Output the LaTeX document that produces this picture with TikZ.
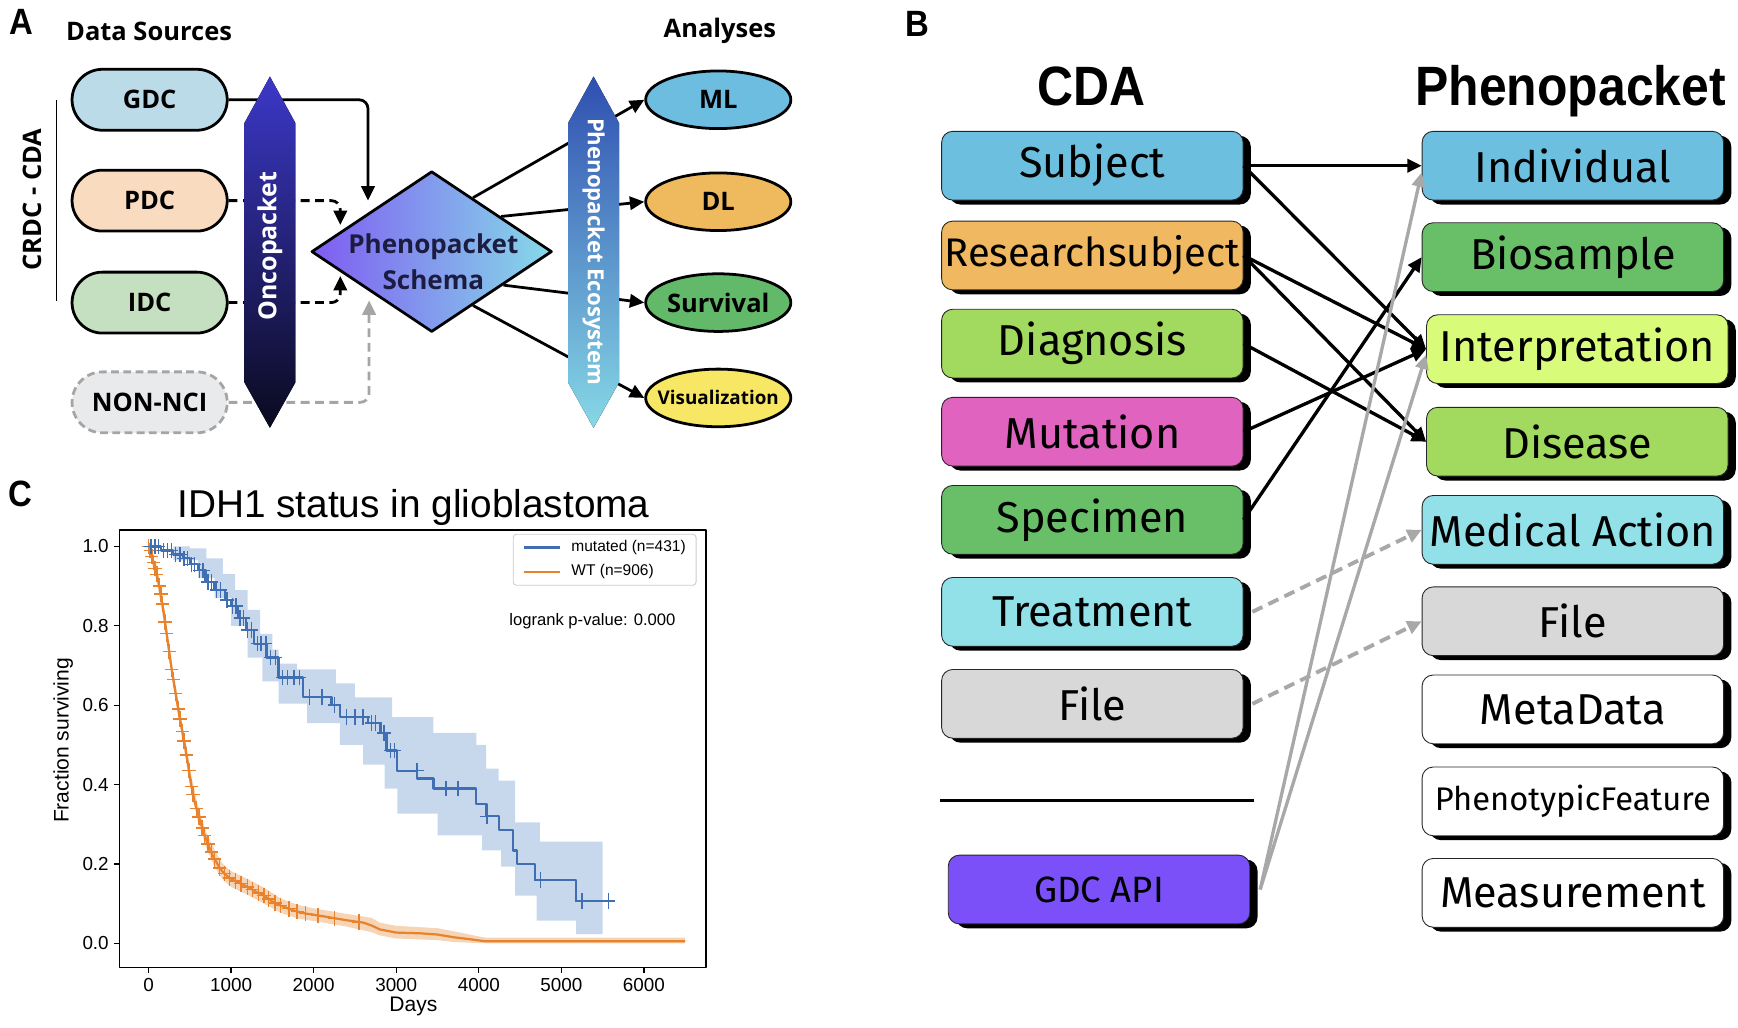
\documentclass[tikz,border=0pt]{standalone}
\usepackage{fontspec}
\setmainfont{Open Sans}
\newfontfamily\boxfont{Fira Sans}
\newfontfamily\headfont[FakeStretch=0.9]{Liberation Sans}
\newfontfamily\plotfont{Liberation Sans}
\usetikzlibrary{positioning,calc,arrows.meta,shapes.geometric,shapes.misc,shadows}
\definecolor{gdcfill}{HTML}{BCDBE8}
\definecolor{pdcfill}{HTML}{F9DCC0}
\definecolor{idcfill}{HTML}{C5E0C0}
\definecolor{ncifill}{HTML}{E8EAEC}
\definecolor{ncidash}{HTML}{A5A5A5}
\definecolor{oncotop}{HTML}{3C38C8}
\definecolor{oncobot}{HTML}{0A0A1E}
\definecolor{ecotop}{HTML}{2F4FB0}
\definecolor{ecobot}{HTML}{86D8E6}
\definecolor{schemaL}{HTML}{7F5CF2}
\definecolor{schemaR}{HTML}{86DAE8}
\definecolor{schematxt}{HTML}{1C1C40}
\definecolor{mlfill}{HTML}{6CBDE0}
\definecolor{dlfill}{HTML}{EFB95E}
\definecolor{survfill}{HTML}{63B96A}
\definecolor{visfill}{HTML}{F7E764}
\definecolor{cblue}{HTML}{6CBFDF}
\definecolor{corange}{HTML}{F0B860}
\definecolor{clime}{HTML}{A2D95F}
\definecolor{cpink}{HTML}{E063C0}
\definecolor{cgreen}{HTML}{68BF68}
\definecolor{ccyan}{HTML}{92E0E8}
\definecolor{cgrey}{HTML}{D8D8D8}
\definecolor{cpurple}{HTML}{7B50F8}
\definecolor{cyellow}{HTML}{D9FB7A}
\definecolor{linkgrey}{HTML}{A8A8A8}
\definecolor{kmblue}{HTML}{3F6FB2}
\definecolor{kmorange}{HTML}{E9822C}
\definecolor{bandblue}{HTML}{C7D7EC}
\definecolor{bandorange}{HTML}{F6D4B6}
\begin{document}
\begin{tikzpicture}[x=1pt,y=-1pt,line join=round,
	>={Triangle[length=13pt,width=12pt]},
	panel/.style={font=\headfont\fontsize{33}{36}\selectfont\bfseries},
	heading/.style={font=\fontsize{23}{26}\selectfont\bfseries},
	source/.style={rounded rectangle,draw,line width=2.5pt,minimum width=140pt,minimum height=55pt,inner sep=0pt,font=\fontsize{23}{26}\selectfont\bfseries},
	analysis/.style={ellipse,draw,line width=2.5pt,minimum width=131pt,minimum height=52pt,inner sep=0pt,font=\fontsize{23}{26}\selectfont\bfseries},
	feed/.style={->,line width=2.5pt,rounded corners=8pt},
	dashfeed/.style={feed,dash pattern=on 8pt off 5pt},
	entity/.style={draw=black!85,line width=0.8pt,rounded corners=10pt,minimum width=272pt,minimum height=62pt,inner sep=0pt,
		font=\boxfont\fontsize{39}{42}\selectfont,
		general shadow={fill=black,shadow xshift=7pt,shadow yshift=-4pt}},
	map/.style={->,line width=3pt},
	apimap/.style={->,line width=3pt,linkgrey},
	maybe/.style={->,line width=3.5pt,linkgrey,dash pattern=on 10pt off 6pt},
	plottext/.style={font=\plotfont\fontsize{17}{20}\selectfont},
	censor/.style={line width=1.3pt}]
	\useasboundingbox (0,0) rectangle (1568,927);
	% ---------------- A ----------------
	\node[panel] (lblA) at (19,20) {A};
	\node[heading] (srchead) at (134.5,28) {Data Sources};
	\node[heading] (anhead) at (649.5,28) {Analyses};
	\node[heading,rotate=90] (crdc) at (29,180) {CRDC - CDA};
	\draw[line width=1.5pt] (51,90) -- (51,272);
	\node[source,fill=gdcfill] (gdc) at (135,90) {GDC};
	\node[source,fill=pdcfill] (pdc) at (135,181) {PDC};
	\node[source,fill=idcfill] (idc) at (135,273) {IDC};
	\node[source,fill=ncifill,draw=ncidash,dash pattern=on 7pt off 4pt] (nonnci) at (135,363) {NON-NCI};
	\node[diamond,minimum width=217pt,minimum height=145pt,inner sep=0pt,draw,line width=2.5pt,left color=schemaL,right color=schemaR] (schema) at (389.5,227) {};
	\node[analysis,fill=mlfill] (ml) at (648,90) {ML};
	\node[analysis,fill=dlfill] (dl) at (648,182) {DL};
	\node[analysis,fill=survfill,inner xsep=-4pt] (surv) at (648,273) {Survival};
	\node[analysis,fill=visfill,inner xsep=-11pt,font=\fontsize{17}{20}\selectfont\bfseries] (vis) at (648,359) {Visualization};
	\coordinate (gdcin) at (332,181);
	\coordinate (pdcin) at (307,203);
	\coordinate (idcin) at (307,249);
	\coordinate (nciin) at (333,271);
	\draw[feed] (gdc.east) -| (gdcin);
	\draw[dashfeed] (pdc.east) -| (pdcin);
	\draw[dashfeed] (idc.east) -| (idcin);
	\draw[dashfeed,ncidash] (nonnci.east) -| (nciin);
	\coordinate (s1) at ($(schema.north)!0.34!(schema.east)$);
	\coordinate (s2) at ($(schema.north)!0.57!(schema.east)$);
	\coordinate (s3) at ($(schema.south)!0.59!(schema.east)$);
	\coordinate (s4) at ($(schema.south)!0.34!(schema.east)$);
	\draw[feed] (s1) -- (ml.west);
	\draw[feed] (s2) -- (dl.west);
	\draw[feed] (s3) -- (surv.west);
	\draw[feed] (s4) -- (vis.west);
	\node[font=\fontsize{23.5}{33}\selectfont\bfseries,text=schematxt,align=center] (schemalbl) at (391,236) {Phenopacket\\Schema};
	\foreach \cx/\ct/\cb in {243.5/oncotop/oncobot,535.5/ecotop/ecobot}
	{\fill[top color=\ct,bottom color=\cb] (\cx-23,111) -- (\cx,69) -- (\cx+23,111) -- (\cx+23,345) -- (\cx,386) -- (\cx-23,345) -- cycle;}
	\node[rotate=90,text=white,font=\fontsize{22.5}{26}\selectfont\bfseries] (onco) at (243.5,222) {Oncopacket};
	\node[rotate=-90,text=white,font=\fontsize{20}{24}\selectfont\bfseries] (eco) at (535.5,227) {Phenopacket Ecosystem};
	% ---------------- B ----------------
	\node[panel] (lblB) at (828,22) {B};
	\node[anchor=base,font=\headfont\fontsize{50}{54}\selectfont\bfseries] (cdahead) at (985,95) {CDA};
	\node[anchor=base,font=\headfont\fontsize{50}{54}\selectfont\bfseries] (phenohead) at (1417,95) {Phenopacket};
	\foreach \nm/\txt/\col/\yy in {subject/Subject/cblue/149.5,diagnosis/Diagnosis/clime/310,mutation/Mutation/cpink/389.5,specimen/Specimen/cgreen/469,treatment/Treatment/ccyan/552,cfile/File/cgrey/635}
	{\node[entity,fill=\col] (\nm) at (985.5,\yy) {\txt};}
	\node[entity,fill=corange,font=\boxfont\fontsize{36}{40}\selectfont] (research) at (985.5,230.5) {Researchsubject};
	\draw[line width=3pt] (848,722) -- (1131,722);
	\node[entity,fill=cpurple,font=\boxfont\fontsize{33}{36}\selectfont] (gdcapi) at (991.5,802.5) {GDC API};
	\foreach \nm/\txt/\col/\xx/\yy in {individual/Individual/cblue/1419/149.5,biosample/Biosample/cgreen/1419/232,interp/Interpretation/cyellow/1423/315,disease/Disease/clime/1423/398.5,medaction/Medical Action/ccyan/1419/478,pfile/File/cgrey/1419/560.5,metadata/MetaData/white/1419/640,measure/Measurement/white/1419/805.5}
	{\node[entity,fill=\col] (\nm) at (\xx,\yy) {\txt};}
	\node[entity,fill=white,font=\boxfont\fontsize{29.5}{32}\selectfont] (phenofeat) at (1419,723) {PhenotypicFeature};
	\draw[map] (subject.east) -- (individual.west);
	\draw[map] (subject.east) -- (interp.west);
	\draw[map] (research.east) -- (interp.west);
	\draw[map] (research.east) -- (disease.west);
	\draw[map] (diagnosis.east) -- (disease.west);
	\draw[map] (mutation.east) -- (interp.west);
	\draw[map] (specimen.east) -- (biosample.west);
	\draw[apimap] ([xshift=9pt]gdcapi.east) -- ([yshift=-6pt]individual.west);
	\draw[apimap] ([xshift=9pt]gdcapi.east) -- ([yshift=-5pt]interp.west);
	\draw[maybe] ([xshift=8pt]treatment.east) -- (medaction.west);
	\draw[maybe] ([xshift=8pt]cfile.east) -- (pfile.west);
	% ---------------- C ----------------
	\node[panel] (lblC) at (18,446) {C};
	\node[anchor=base,font=\plotfont\fontsize{35}{38}\selectfont] (ctitle) at (373,467) {IDH1 status in glioblastoma};
	\begin{scope}[shift={(134,851)},x=0.0745pt,y=358pt]
		\fill[bandblue] plot[const plot] coordinates {(0,1.0) (500,0.995) (700,0.97) (900,0.93) (1050,0.89) (1200,0.84) (1350,0.78) (1500,0.74) (1575,0.705) (1800,0.69) (2270,0.655) (2500,0.62) (2810,0.62) (2950,0.57) (3450,0.53) (3970,0.50) (4090,0.44) (4240,0.41) (4440,0.305) (4740,0.256) (5500,0.256)}
		-- plot[const plot mark right] coordinates {(5500,0.023) (5180,0.023) (4700,0.057) (4440,0.12) (4270,0.193) (4040,0.234) (3500,0.272) (3013,0.327) (2858,0.39) (2600,0.45) (2316,0.50) (1920,0.555) (1575,0.604) (1380,0.66) (1200,0.72) (1000,0.80) (800,0.87) (600,0.92) (300,0.965) (0,1.0)} -- cycle;
		\fill[bandorange] plot coordinates {(0,1.0) (100,0.95) (200,0.83) (300,0.685) (400,0.565) (500,0.44) (600,0.345) (700,0.28) (800,0.235) (900,0.2) (1000,0.182) (1200,0.162) (1400,0.14) (1600,0.113) (1800,0.097) (2000,0.088) (2400,0.074) (2700,0.064) (2800,0.052) (3000,0.044) (3500,0.038) (3700,0.03) (4080,0.014) (6500,0.014)}
		-- plot coordinates {(6500,0.0) (4080,0.0) (3700,0.003) (3500,0.008) (3000,0.012) (2800,0.02) (2700,0.028) (2400,0.042) (2000,0.056) (1800,0.063) (1600,0.077) (1400,0.1) (1200,0.122) (1000,0.142) (900,0.16) (800,0.192) (700,0.24) (600,0.305) (500,0.40) (400,0.525) (300,0.645) (200,0.79) (100,0.91) (0,0.99)} -- cycle;
		\draw[kmorange,line width=2pt] plot coordinates {(0,1.0) (20,0.99) (40,0.975) (60,0.96) (80,0.945) (100,0.93) (120,0.91) (140,0.89) (160,0.865) (180,0.84) (200,0.81) (220,0.78) (240,0.75) (260,0.72) (280,0.69) (300,0.665) (320,0.64) (340,0.615) (360,0.59) (380,0.565) (400,0.545) (420,0.52) (440,0.5) (460,0.475) (480,0.45) (500,0.42) (520,0.395) (540,0.375) (560,0.355) (580,0.34) (600,0.325) (630,0.305) (660,0.285) (700,0.26) (740,0.24) (780,0.22) (820,0.205) (860,0.19) (900,0.18) (950,0.17) (1000,0.162) (1100,0.152) (1200,0.142) (1300,0.13) (1400,0.12) (1500,0.105) (1600,0.095) (1700,0.087) (1800,0.08) (1900,0.075) (2000,0.072) (2200,0.065) (2400,0.058) (2600,0.052) (2700,0.045) (2800,0.035) (3000,0.027) (3300,0.025) (3500,0.022) (3700,0.015) (3900,0.01) (4080,0.005) (6500,0.005)};
		\draw[kmblue,line width=2pt] plot[const plot] coordinates {(0,1.0) (150,0.99) (300,0.98) (420,0.97) (500,0.955) (600,0.94) (690,0.91) (800,0.89) (930,0.865) (1000,0.85) (1080,0.82) (1180,0.79) (1280,0.755) (1430,0.72) (1575,0.67) (1870,0.62) (2217,0.60) (2316,0.57) (2661,0.555) (2809,0.53) (2883,0.486) (3006,0.435) (3253,0.415) (3451,0.39) (3969,0.35) (4092,0.32) (4240,0.285) (4413,0.234) (4462,0.20) (4684,0.16) (5178,0.107) (5650,0.107)};
		\foreach \d/\s in {0/1.0,20/0.99,40/0.975,60/0.96,80/0.945,100/0.93,130/0.90,150/0.88,170/0.855,200/0.81,220/0.78,250/0.735,280/0.69,300/0.665,330/0.63,360/0.59,380/0.565,410/0.533,430/0.51,460/0.475,490/0.435,520/0.395,540/0.375,580/0.34,610/0.318,650/0.29,680/0.272,720/0.25,760/0.23,800/0.212,860/0.19,920/0.176,980/0.165,1050/0.157,1120/0.15,1200/0.142,1260/0.135,1330/0.127,1400/0.12,1450/0.112,1530/0.102,1600/0.095,1700/0.087,1800/0.08,1900/0.075,2050/0.07,2250/0.063,2550/0.053}
		{\draw[kmorange,censor] (\d,\s) +(-6pt,0) -- +(6pt,0) +(0,-7pt) -- +(0,7pt);}
		\foreach \d/\s in {30/1.0,80/1.0,120/1.0,180/0.99,230/0.99,280/0.99,330/0.98,380/0.98,430/0.97,470/0.97,520/0.955,560/0.955,620/0.94,660/0.94,720/0.91,760/0.91,820/0.89,870/0.89,950/0.865,1020/0.85,1060/0.85,1110/0.82,1150/0.82,1200/0.79,1250/0.79,1320/0.755,1360/0.755,1420/0.755,1480/0.72,1540/0.72,1620/0.67,1680/0.67,1760/0.67,1830/0.67,1950/0.62,2100/0.62,2250/0.60,2400/0.57,2500/0.57,2600/0.57,2700/0.555,2750/0.555,2850/0.53,2930/0.486,2980/0.486,3250/0.435,3600/0.39,3750/0.39,4100/0.32,4750/0.16,5250/0.107,5570/0.107}
		{\draw[kmblue,censor] (\d,\s) +(-6pt,0) -- +(6pt,0) +(0,-7pt) -- +(0,7pt);}
		% axes ticks and labels
		\foreach \t in {0,1000,2000,3000,4000,5000,6000}
		{\draw[line width=1.2pt] (\t,0) ++(0,-22pt) -- ++(0,-5pt) node[plottext,below=1pt] {\t};}
		\foreach \s in {0.0,0.2,0.4,0.6,0.8,1.0}
		{\draw[line width=1.2pt] (0,\s) ++(-26pt,0) -- ++(-5pt,0) node[plottext,left=1pt] {\s};}
	\end{scope}
	\draw[line width=1.3pt] (108,478) rectangle (637,873);
	\node[font=\plotfont\fontsize{19}{22}\selectfont] (xlabel) at (373,908) {Days};
	\node[font=\plotfont\fontsize{19}{22}\selectfont,rotate=90] (ylabel) at (57,668) {Fraction surviving};
	\draw[rounded corners=3pt,draw=black!20,fill=white,line width=0.8pt] (463,482) rectangle (628,528);
	\draw[kmblue,line width=2pt] (473,494) -- (505,494);
	\draw[kmorange,line width=2pt] (473,516) -- (505,516);
	\node[anchor=west,font=\plotfont\fontsize{14}{16}\selectfont] (legmut) at (512,494) {mutated (n=431)};
	\node[anchor=west,font=\plotfont\fontsize{14}{16}\selectfont] (legwt) at (512,516) {WT (n=906)};
	\node[anchor=west,font=\plotfont\fontsize{15}{17}\selectfont] (logrank) at (456,560) {logrank p-value: 0.000};
\end{tikzpicture}
\end{document}
